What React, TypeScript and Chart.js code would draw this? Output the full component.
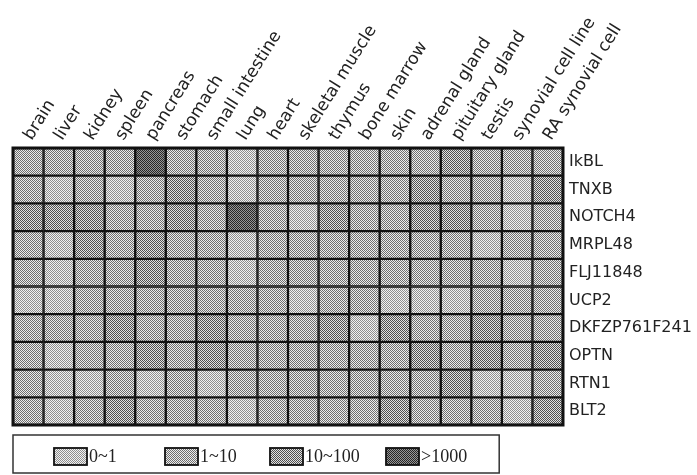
import { useEffect, useRef } from 'react';
import { Chart, registerables } from 'chart.js';

Chart.register(...registerables);

const tissues = [
  'brain', 'liver', 'kidney', 'spleen', 'pancreas', 'stomach', 'small intestine', 'lung', 'heart',
  'skeletal muscle', 'thymus', 'bone marrow', 'skin', 'adrenal gland', 'pituitary gland', 'testis',
  'synovial cell line', 'RA synovial cell',
];

const genes = ['IkBL', 'TNXB', 'NOTCH4', 'MRPL48', 'FLJ11848', 'UCP2', 'DKFZP761F241', 'OPTN', 'RTN1', 'BLT2'];

const levelLabels = ['0~1', '1~10', '10~100', '>1000'];

// expression level index per tissue (0: 0~1, 1: 1~10, 2: 10~100, 3: >1000)
const IkBL = [1, 1, 1, 1, 3, 1, 1, 0, 1, 1, 1, 1, 1, 1, 2, 1, 1, 1];
const TNXB = [1, 0, 1, 0, 1, 2, 1, 0, 1, 1, 1, 1, 1, 2, 1, 1, 0, 2];
const NOTCH4 = [2, 2, 2, 1, 1, 2, 1, 3, 1, 0, 2, 1, 1, 2, 2, 1, 0, 1];
const MRPL48 = [1, 0, 2, 1, 2, 1, 1, 0, 1, 1, 1, 1, 1, 1, 1, 0, 1, 1];
const FLJ11848 = [1, 0, 1, 1, 2, 1, 1, 0, 1, 1, 1, 1, 1, 1, 1, 1, 0, 1];
const UCP2 = [0, 0, 1, 1, 1, 1, 1, 1, 1, 0, 1, 1, 0, 0, 0, 1, 1, 1];
const DKFZP761F241 = [1, 1, 1, 2, 1, 1, 2, 1, 1, 1, 2, 0, 2, 1, 1, 2, 1, 1];
const OPTN = [1, 0, 1, 1, 2, 1, 2, 1, 1, 1, 1, 1, 1, 2, 1, 2, 1, 2];
const RTN1 = [1, 0, 0, 1, 0, 1, 0, 1, 1, 1, 1, 1, 1, 1, 2, 0, 0, 1];
const BLT2 = [1, 0, 1, 2, 1, 1, 1, 0, 1, 1, 1, 1, 2, 1, 1, 1, 0, 2];

const levelRows = [IkBL, TNXB, NOTCH4, MRPL48, FLJ11848, UCP2, DKFZP761F241, OPTN, RTN1, BLT2];

// dither pairs (light dot, dark dot) for each level
const levelDither: [string, string][] = [
  ['#f2f2f2', '#8e8e8e'],
  ['#ececec', '#6e6e6e'],
  ['#e2e2e2', '#505050'],
  ['#969696', '#262626'],
];

const legendOffsets = [41, 152, 257, 373];

export default function App() {
  const ref = useRef<HTMLCanvasElement>(null);

  useEffect(() => {
    const canvas = ref.current!;
    const ctx = canvas.getContext('2d')!;
    const makePattern = (a: string, b: string) => {
      const c = document.createElement('canvas');
      c.width = 2;
      c.height = 2;
      const g = c.getContext('2d')!;
      g.fillStyle = a;
      g.fillRect(0, 0, 2, 2);
      g.fillStyle = b;
      g.fillRect(0, 0, 1, 1);
      g.fillRect(1, 1, 1, 1);
      return ctx.createPattern(c, 'repeat')!;
    };
    const fills = levelDither.map(([a, b]) => makePattern(a, b));

    const datasets = genes.map((g, r) => ({
      label: g,
      data: levelRows[r].map(() => [r, r + 1]),
      backgroundColor: levelRows[r].map((v) => fills[v]),
      borderColor: '#111111',
      borderWidth: 1.5,
      borderSkipped: false,
      grouped: false,
      barPercentage: 1,
      categoryPercentage: 1,
    }));

    const frameLegend = {
      id: 'frameLegend',
      afterDatasetsDraw(chart: any) {
        const c = chart.ctx as CanvasRenderingContext2D;
        const a = chart.chartArea;
        c.save();
        c.strokeStyle = '#111111';
        c.lineWidth = 3;
        c.strokeRect(a.left, a.top, a.right - a.left, a.bottom - a.top);
        const top = a.bottom + 10;
        const w = (a.right - a.left) * 0.884;
        c.lineWidth = 1.5;
        c.strokeStyle = '#333333';
        c.strokeRect(a.left, top, w, 38);
        levelLabels.forEach((lab, i) => {
          const x = a.left + legendOffsets[i];
          c.fillStyle = fills[i];
          c.fillRect(x, top + 13, 33, 17);
          c.lineWidth = 1.8;
          c.strokeStyle = '#111111';
          c.strokeRect(x, top + 13, 33, 17);
          c.fillStyle = '#222222';
          c.font = '18px "Liberation Serif"';
          c.textBaseline = 'middle';
          c.textAlign = 'left';
          c.fillText(lab, x + 35, top + 22);
        });
        c.restore();
      },
    };

    const chart = new Chart(canvas, {
      type: 'bar',
      data: { labels: tissues, datasets: datasets as any },
      options: {
        animation: false,
        responsive: true,
        maintainAspectRatio: false,
        layout: { padding: { left: 13, right: 0, top: 0, bottom: 50 } },
        plugins: { legend: { display: false }, tooltip: { enabled: false } },
        scales: {
          x: {
            type: 'category',
            position: 'top',
            offset: true,
            grid: { display: false, drawTicks: false },
            border: { display: false },
            ticks: {
              autoSkip: false,
              minRotation: 58,
              maxRotation: 58,
              padding: 4,
              labelOffset: 17,
              color: '#222222',
              font: { family: '"DejaVu Sans"', size: 17 },
            },
            afterFit: (s: any) => {
              s.height = 148;
            },
          },
          y: {
            type: 'linear',
            position: 'right',
            min: 0,
            max: 10,
            reverse: true,
            grid: { display: false, drawTicks: false },
            border: { display: false },
            afterBuildTicks: (s: any) => {
              s.ticks = genes.map((_, i) => ({ value: i + 0.5 }));
            },
            ticks: {
              autoSkip: false,
              padding: 6,
              color: '#222222',
              font: { family: '"DejaVu Sans"', size: 16 },
              callback: (_v: any, i: number) => genes[i],
            },
            afterFit: (s: any) => {
              s.width = 134;
            },
          },
        },
      },
      plugins: [frameLegend],
    });
    return () => chart.destroy();
  }, []);

  return (
    <div style={{ position: 'fixed', left: 0, top: 0, width: 697, height: 475, background: '#ffffff' }}>
      <canvas ref={ref} />
    </div>
  );
}
